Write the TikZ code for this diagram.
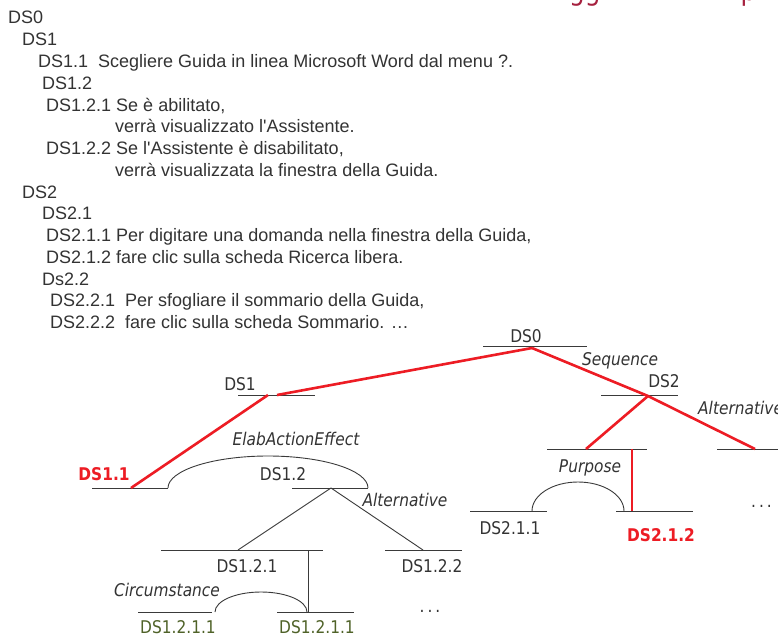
\documentclass[tikz,border=0pt]{standalone}
\usepackage{fontspec}
\setmainfont{Liberation Sans}[Ligatures=TeXOff]
\newfontfamily\treefont{DejaVu Sans}[FakeStretch=0.88,
  ItalicFont={DejaVu Sans Oblique}, BoldFont={DejaVu Sans Bold}]

\definecolor{txt}{HTML}{333333}
\definecolor{redl}{HTML}{ED1C24}
\definecolor{olive}{HTML}{4F6228}
\definecolor{crimson}{HTML}{A6213F}
\definecolor{linegray}{HTML}{3A3A3A}

\tikzset{
  outline/.style={anchor=base west, inner sep=0pt, text=txt,
    font=\fontsize{18}{21}\selectfont},
  lbl/.style={anchor=base, inner sep=0pt, text=txt,
    font=\treefont\fontsize{17.5}{20}\selectfont},
  rel/.style={lbl, font=\treefont\itshape\fontsize{17.5}{20}\selectfont},
  hot/.style={lbl, text=redl, font=\treefont\bfseries\fontsize{17.5}{20}\selectfont},
  leaf/.style={lbl, text=olive},
  bar/.style={draw=linegray, line width=0.9pt},
  graylink/.style={draw=linegray, line width=0.9pt},
  redlink/.style={draw=redl, line width=2.6pt},
  heading/.style={anchor=base west, inner sep=0pt, text=crimson,
    font=\treefont\fontsize{28}{30}\selectfont},
}

\begin{document}
\begin{tikzpicture}[x=1pt, y=-1pt]
\useasboundingbox (0,0) rectangle (778,634);
\clip (0,0) rectangle (778,634);
\fill[white] (0,0) rectangle (778,634);

% heading descenders peeking in at the top
\node[heading] (headA) at (569,0.5) {gg};
\node[heading] (headB) at (740.5,0.5) {p};

% ---------- outline of the discourse segments ----------
\def\lh{21.75}
\node[outline] (o1)  at (8, 24+0*\lh)  {DS0};
\node[outline] (o2)  at (22, 24+1*\lh)  {DS1};
\node[outline] (o3)  at (38, 24+2*\lh)  {DS1.1\ \ Scegliere Guida in linea Microsoft Word dal menu ?.};
\node[outline] (o4)  at (42, 24+3*\lh)  {DS1.2};
\node[outline] (o5)  at (46, 24+4*\lh)  {DS1.2.1 Se è abilitato,};
\node[outline] (o6)  at (115, 24+5*\lh)  {verrà visualizzato l'Assistente.};
\node[outline] (o7)  at (46, 24+6*\lh)  {DS1.2.2 Se l'Assistente è disabilitato,};
\node[outline] (o8)  at (115, 24+7*\lh)  {verrà visualizzata la finestra della Guida.};
\node[outline] (o9)  at (22, 24+8*\lh)  {DS2};
\node[outline] (o10) at (42, 24+9*\lh)  {DS2.1};
\node[outline] (o11) at (46, 24+10*\lh) {DS2.1.1 Per digitare una domanda nella finestra della Guida,};
\node[outline] (o12) at (46, 24+11*\lh) {DS2.1.2 fare clic sulla scheda Ricerca libera.};
\node[outline] (o13) at (42, 24+12*\lh) {Ds2.2};
\node[outline] (o14) at (50, 24+13*\lh) {DS2.2.1\ \ Per sfogliare il sommario della Guida,};
\node[outline] (o15) at (50, 24+14*\lh) {DS2.2.2\ \ fare clic sulla scheda Sommario. …};

% ---------- tree: bar end points and attachment points ----------
\coordinate (b0l) at (483,346);  \coordinate (b0r) at (587,346);
\coordinate (b1l) at (238,395);  \coordinate (b1r) at (315,395);
\coordinate (b2l) at (601,395);  \coordinate (b2r) at (678,395);
\coordinate (b21l) at (547,449); \coordinate (b21r) at (647,449);
\coordinate (b22l) at (717,449); \coordinate (b22r) at (790,449);
\coordinate (b11l) at (92,488);  \coordinate (b11r) at (168,488);
\coordinate (b12l) at (292,488); \coordinate (b12r) at (368,488);
\coordinate (b121l) at (161,550); \coordinate (b121r) at (323,550);
\coordinate (b122l) at (385,550); \coordinate (b122r) at (462,550);
\coordinate (bAl) at (138,612);  \coordinate (bAr) at (212,612);
\coordinate (bBl) at (277,612);  \coordinate (bBr) at (354,612);
\coordinate (b211l) at (470,511); \coordinate (b211r) at (547,511);
\coordinate (b212l) at (616,511); \coordinate (b212r) at (693,511);

\coordinate (ds0a) at (532,348);
\coordinate (ds1p) at (277,395);
\coordinate (ds1a) at (268,395);
\coordinate (ds2a) at (648,396);
\coordinate (ds21a) at (586,449);
\coordinate (ds21v) at (632,449);
\coordinate (ds22a) at (755,449);
\coordinate (ds11a) at (131,488);
\coordinate (ds12a) at (331,488);
\coordinate (ds121a) at (238,550);
\coordinate (ds121v) at (308,550);
\coordinate (ds122a) at (423,550);
\coordinate (ds1211a) at (308,612);
\coordinate (ds212a) at (632,511);

% bars
\foreach \b in {b0,b1,b2,b21,b22,b11,b12,b121,b122,bA,bB,b211,b212}
  \draw[bar] (\b l) -- (\b r);

% relation arcs
\draw[graylink] (b11r) arc[start angle=180, end angle=360, x radius=100, y radius=32];
\draw[graylink] (bAr) ++(3,0) arc[start angle=180, end angle=360, x radius=46, y radius=20];
\draw[graylink] (b211r) ++(-15,0) arc[start angle=180, end angle=360, x radius=46, y radius=29];

% gray links
\draw[graylink] (ds12a) -- (ds121a);
\draw[graylink] (ds12a) -- (ds122a);
\draw[graylink] (ds121v) -- (ds1211a);

% red links
\draw[redlink] (ds0a) -- (ds1p);
\draw[redlink] (ds0a) -- (ds2a);
\draw[redlink] (ds2a) -- (ds21a);
\draw[redlink] (ds2a) -- (ds22a);
\draw[redlink] (ds1a) -- (ds11a);
\draw[redlink] (ds21v) -- (ds212a);

% segment labels
\node[lbl] (t0) at (526,342) {DS0};
\node[lbl] (t1) at (240,390) {DS1};
\node[lbl] (t2) at (664,387) {DS2};
\node[hot] (t11) at (104,480) {DS1.1};
\node[lbl] (t12) at (283,480) {DS1.2};
\node[lbl] (t121) at (247,572) {DS1.2.1};
\node[lbl] (t122) at (432,572) {DS1.2.2};
\node[leaf] (tA) at (178,633) {DS1.2.1.1};
\node[leaf] (tB) at (317,633) {DS1.2.1.1};
\node[lbl] (t211) at (510,534) {DS2.1.1};
\node[hot] (t212) at (661,541) {DS2.1.2};
\node[lbl] (dotsA) at (430,612) {.\,.\,.};
\node[lbl, anchor=base west] (dotsB) at (751,507) {.\,.\,.};

% relation labels
\node[rel] (rSeq) at (620,365) {Sequence};
\node[rel, anchor=base west] (rAlt1) at (698,414) {Alternative};
\node[rel] (rElab) at (296,445) {ElabActionEffect};
\node[rel] (rAlt2) at (405,506) {Alternative};
\node[rel] (rPur) at (590,472) {Purpose};
\node[rel] (rCirc) at (167,596) {Circumstance};
\end{tikzpicture}
\end{document}
